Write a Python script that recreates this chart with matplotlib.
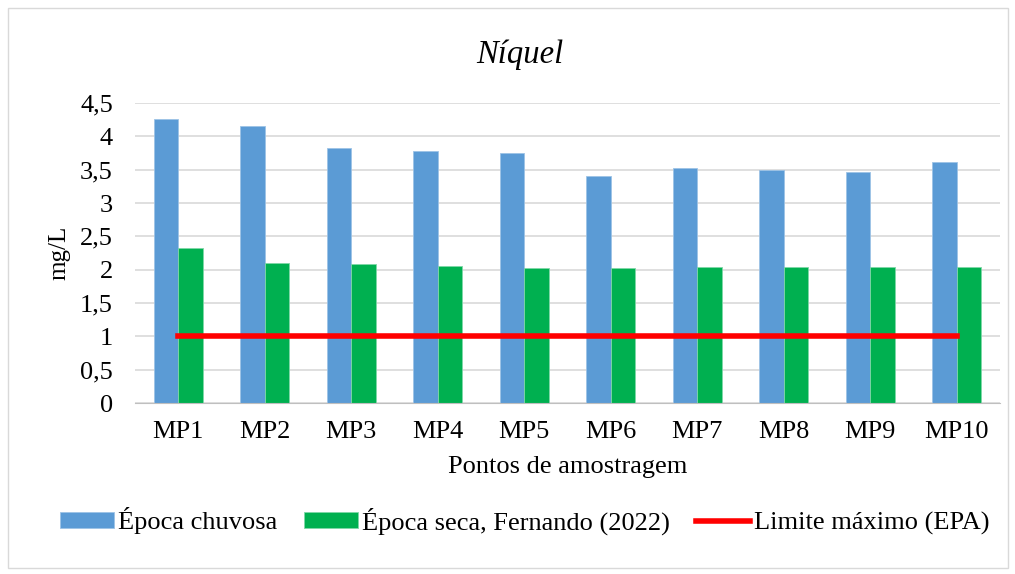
import matplotlib.pyplot as plt
import matplotlib.ticker as mticker
import numpy as np

pontos = ['MP1', 'MP2', 'MP3', 'MP4', 'MP5', 'MP6', 'MP7', 'MP8', 'MP9', 'MP10']
chuvosa = [4.26, 4.16, 3.82, 3.78, 3.75, 3.40, 3.53, 3.50, 3.47, 3.62]
seca = [2.32, 2.10, 2.09, 2.06, 2.03, 2.03, 2.04, 2.04, 2.04, 2.04]
limite = [1, 1, 1, 1, 1, 1, 1, 1, 1, 1]
yticks = [0, 0.5, 1, 1.5, 2, 2.5, 3, 3.5, 4, 4.5]

plt.rcParams['font.family'] = ['Liberation Serif', 'DejaVu Serif']

fig = plt.figure(figsize=(10.15, 5.74), dpi=100)
ax = fig.add_axes([135 / 1015, 1 - 403 / 574, 865 / 1015, 300 / 574])

# moldura cinza em volta do grafico
fig.patches.append(plt.Rectangle((8 / 1015, 6 / 574), 1000 / 1015, 560 / 574,
                                 transform=fig.transFigure, fill=False,
                                 edgecolor='#d9d9d9', linewidth=1))

x = np.arange(len(pontos))
w = 0.285
b1 = ax.bar(x - w / 2, chuvosa, width=w, color='#5b9bd5', edgecolor='#9dc3e6',
            linewidth=0.6, label='Época chuvosa', zorder=2)
b2 = ax.bar(x + w / 2, seca, width=w, color='#00b050', edgecolor='#7fd7a7',
            linewidth=0.6, label='Época seca, Fernando (2022)', zorder=2)
l1, = ax.plot(x, limite, color='#ff0000', linewidth=4, label='Limite máximo (EPA)', zorder=3)

ax.set_xlim(-0.5, len(pontos) - 0.5)
ax.set_ylim(0, 4.5)
ax.set_yticks(yticks)
ax.yaxis.set_major_formatter(mticker.FuncFormatter(lambda v, p: f'{v:g}'.replace('.', ',')))
ax.set_xticks(x)
ax.set_xticklabels(pontos)
ax.tick_params(axis='both', length=0, labelsize=19, colors='black')
ax.tick_params(axis='x', pad=13)
ax.tick_params(axis='y', pad=16)

ax.grid(axis='y', color='#d9d9d9', linewidth=1.2, zorder=0)
ax.set_axisbelow(True)
for s in ['top', 'right', 'left']:
    ax.spines[s].set_visible(False)
ax.spines['bottom'].set_color('#bfbfbf')

ax.set_ylabel('mg/L', fontsize=18, labelpad=7)
ax.set_xlabel('Pontos de amostragem', fontsize=19, labelpad=9)
fig.suptitle('Níquel', x=520 / 1015, y=1 - 55 / 574, va='center',
             fontsize=23.5, style='italic')

fig.legend(handles=[b1, b2, l1], loc='center', bbox_to_anchor=(0.517, 0.092), ncol=3,
           frameon=False, fontsize=19, handlelength=2.05, handleheight=0.55,
           handletextpad=0.15, columnspacing=1.0)

fig.savefig('out.png', dpi=100)
